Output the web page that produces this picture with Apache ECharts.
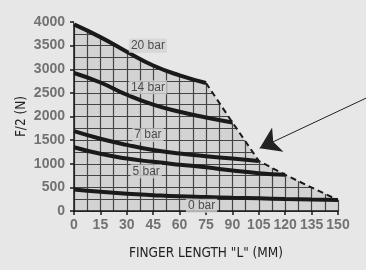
<!DOCTYPE html>
<html>
<head>
<meta charset="utf-8">
<script src="https://cdn.jsdelivr.net/npm/echarts@6/dist/echarts.min.js"></script>
<style>
  html, body { margin: 0; padding: 0; background: #e7e7e7; }
  #chart { width: 366px; height: 270px; }
</style>
</head>
<body>
<div id="chart"></div>
<script>
// finger length (mm) where curves are read
var lengths = [0, 15, 30, 45, 60, 75, 90, 105, 120, 135, 150]
// F/2 (N) per pressure
var bar20 = [3950, 3680, 3370, 3080, 2870, 2710]
var bar14 = [2920, 2720, 2460, 2250, 2100, 1980, 1875]
var bar7 = [1690, 1530, 1400, 1290, 1215, 1160, 1110, 1060]
var bar5 = [1350, 1210, 1110, 1040, 980, 925, 855, 800, 765]
var bar0 = [455, 405, 365, 335, 310, 295, 280, 268, 255, 243, 232]
var curveNames = ['20 bar', '14 bar', '7 bar', '5 bar', '0 bar']
var labelPos = [[42, 3500], [42, 2620], [42, 1605], [41, 840], [72.5, 112]]
var arrowFrom = [166, 2390]
var arrowTo = [105.5, 1330]

var bg = '#e7e7e7'
var fill = '#d3d3d3'
var narrow = "'Liberation Sans Narrow', 'DejaVu Sans Condensed', 'Arial Narrow', sans-serif"

function pairs(arr) {
  return arr.map(function (v, i) { return [lengths[i], v] })
}
var curves = [bar20, bar14, bar7, bar5, bar0]
// dashed limit line joins the end of every curve
var limit = curves.map(function (arr) { return [lengths[arr.length - 1], arr[arr.length - 1]] })
// outline of the usable area: 20 bar curve then the dashed limit
var outline = pairs(bar20).concat(limit.slice(1))

var series = []
// covers the grid outside the usable area
series.push({
  type: 'custom',
  z: 2,
  silent: true,
  data: [0],
  renderItem: function (params, api) {
    var pts = outline.map(function (p) { return api.coord(p) })
    var last = outline[outline.length - 1]
    pts.push(api.coord([last[0] + 10, last[1]]))
    pts.push(api.coord([last[0] + 10, 4100]))
    pts.push(api.coord([0, 4100]))
    return { type: 'polygon', shape: { points: pts }, style: { fill: bg } }
  }
})
series.push({
  type: 'line',
  z: 3,
  data: limit,
  symbol: 'none',
  lineStyle: { color: '#1a1a1a', width: 2, type: [6, 4] }
})
curves.forEach(function (arr, i) {
  series.push({
    type: 'line',
    z: 3,
    name: curveNames[i],
    data: pairs(arr),
    smooth: true,
    symbol: 'none',
    lineStyle: { color: '#1a1a1a', width: 4 }
  })
})
series.push({
  type: 'scatter',
  z: 4,
  symbolSize: 1,
  itemStyle: { color: 'transparent' },
  data: curveNames.map(function (n, i) { return { name: n, value: labelPos[i] } }),
  label: {
    show: true,
    position: 'inside',
    formatter: '{b}',
    fontFamily: 'Liberation Sans',
    fontSize: 12,
    color: '#2a2a2a',
    backgroundColor: fill,
    padding: [1, 2]
  }
})
series.push({
  type: 'lines',
  z: 5,
  coordinateSystem: 'cartesian2d',
  clip: false,
  symbol: ['none', 'arrow'],
  symbolSize: [10, 20],
  lineStyle: { color: '#222', width: 1, opacity: 1 },
  data: [{ coords: [arrowFrom, arrowTo] }]
})

var chart = echarts.init(document.getElementById('chart'))
chart.setOption({
  animation: false,
  backgroundColor: bg,
  grid: {
    left: 74, right: 28, top: 22, bottom: 59,
    show: true, backgroundColor: fill, borderWidth: 0
  },
  xAxis: {
    type: 'value',
    min: 0, max: 150, interval: 15,
    name: 'FINGER LENGTH "L" (MM)',
    nameLocation: 'middle',
    nameGap: 35,
    nameTextStyle: { fontFamily: narrow, fontSize: 13.5, color: '#222' },
    axisLine: { lineStyle: { color: '#1a1a1a', width: 1.5 } },
    axisTick: { length: 4, lineStyle: { color: '#1a1a1a', width: 1.5 } },
    axisLabel: { margin: 7, fontFamily: 'Liberation Sans', fontWeight: 'bold', fontSize: 14, color: '#727272' },
    splitLine: { show: true, lineStyle: { color: '#444', width: 1.2 } },
    minorTick: { show: false, splitNumber: 2 },
    minorSplitLine: { show: true, lineStyle: { color: '#444', width: 1.2 } }
  },
  yAxis: {
    type: 'value',
    min: 0, max: 4000, interval: 500,
    name: 'F/2 (N)',
    nameLocation: 'middle',
    nameRotate: 90,
    nameGap: 46,
    nameMoveOverlap: false,
    nameTextStyle: { fontFamily: narrow, fontSize: 13.5, color: '#222' },
    axisLine: { show: true, lineStyle: { color: '#1a1a1a', width: 1.5 } },
    axisTick: { show: true, length: 4, lineStyle: { color: '#1a1a1a', width: 1.5 } },
    axisLabel: {
      margin: 9, fontFamily: 'Liberation Sans', fontWeight: 'bold', fontSize: 14, color: '#727272',
      formatter: function (v) { return String(v) }
    },
    splitLine: { show: true, lineStyle: { color: '#444', width: 1.2 } },
    minorTick: { show: false, splitNumber: 2 },
    minorSplitLine: { show: true, lineStyle: { color: '#444', width: 1.2 } }
  },
  series: series
})
</script>
</body>
</html>
